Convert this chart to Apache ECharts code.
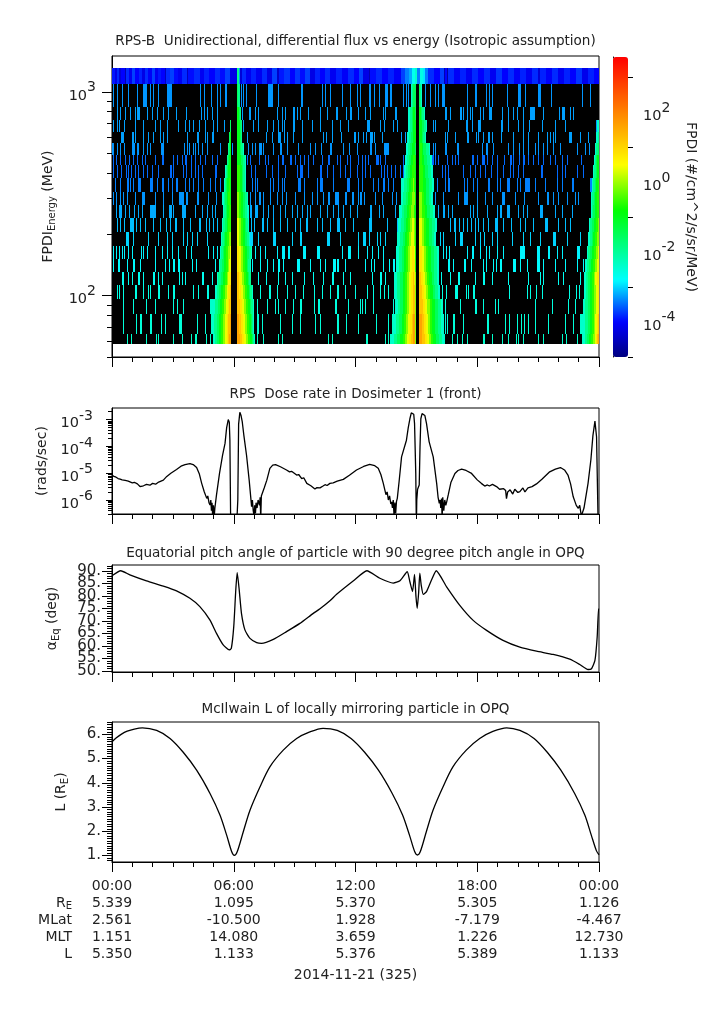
<!DOCTYPE html>
<html><head><meta charset="utf-8">
<style>html,body{margin:0;padding:0;background:#fff}#c{width:725px;height:1019px}</style>
<script src="https://cdn.jsdelivr.net/npm/echarts@6/dist/echarts.min.js"></script>
</head><body><div id="c"></div>
<script>
const FONT='"DejaVu Sans"', INK='#222';
const panelTitles=['RPS-B  Unidirectional, differential flux vs energy (Isotropic assumption)','RPS  Dose rate in Dosimeter 1 (front)','Equatorial pitch angle of particle with 90 degree pitch angle in OPQ','McIlwain L of locally mirroring particle in OPQ'];
const timeTicks=['00:00','06:00','12:00','18:00','00:00'];
const rowRE=['5.339','1.095','5.370','5.305','1.126'];
const rowMLat=['2.561','-10.500','1.928','-7.179','-4.467'];
const rowMLT=['1.151','14.080','3.659','1.226','12.730'];
const rowL=['5.350','1.133','5.376','5.389','1.133'];
const dateLabel='2014-11-21 (325)';

// energy bin edges (MeV), top to bottom
const energyEdges=[1316,1090,840,731,638,564,492,440,380,324,280,241.5,206,176,152,131,113,96.6,81.5,65,57.7];
const hoursPerSample=24/487, sampleCount=487;
// top channel: [first sample, log10 flux]; runs until next entry
const topChannel=[[0,-3.9],[3,-4.2],[5,-3.8],[7,-4.3],[9,-4],[13,-4.6],[14,-3.8],[17,-4.1],[20,-3.7],[23,-4],[27,-3.85],[30,-4.2],[33,-3.8],[36,-4.05],[40,-3.7],[43,-4.1],[46,-3.9],[49,-4],[53,-4.5],[54,-3.8],[58,-3.7],[62,-3.95],[66,-4.1],[70,-3.8],[75,-4.5],[76,-3.95],[82,-3.8],[88,-4.1],[92,-3.85],[97,-4],[103,-3.8],[108,-3.95],[113,-3.7],[118,-4.2],[125,-1.9],[127,-3.3],[128,-4.3],[130,-3.8],[134,-4.1],[139,-3.85],[144,-4.1],[150,-3.8],[155,-4.2],[160,-3.7],[165,-4.4],[167,-3.9],[172,-3.75],[178,-4],[183,-3.75],[188,-3.95],[193,-3.7],[198,-4.2],[203,-3.85],[208,-4],[213,-3.8],[218,-4.1],[224,-3.85],[230,-4.05],[236,-3.8],[242,-4],[247,-3.7],[251,-4.2],[257,-4.6],[258,-3.95],[264,-3.8],[270,-4],[276,-3.85],[282,-4.05],[289,-3.7],[293,-3.4],[297,-3.2],[300,-2.7],[303,-2.4],[305,-3.4],[308,-2.6],[311,-2.9],[313,-3.4],[316,-3.8],[322,-4],[328,-3.7],[332,-4.6],[333,-4],[335,-4.7],[336,-3.8],[342,-4.05],[348,-3.85],[354,-4.1],[360,-3.8],[366,-4],[372,-3.8],[378,-4.1],[384,-3.75],[390,-4],[396,-3.8],[402,-4.05],[408,-3.85],[414,-4.1],[420,-3.8],[426,-4.3],[428,-3.85],[434,-4.05],[440,-3.8],[446,-4.1],[452,-3.85],[458,-4],[464,-3.75],[470,-4.15],[476,-3.85],[482,-4]];
// other channels: flux of a single-count sample, log10
const rowCountFlux=[null,-3.3,-3.25,-3.25,-3.25,-3.3,-3.5,-3.5,-3.4,-3.3,-3.2,-3.1,-3.0,-2.85,-2.8,-2.7,-2.6,-2.55,-2.5,-2.4];
// samples with counts per channel: n or [n,width]
const countSamples=[[],
[1,5,10,16,25,[31,4],38,41,46,[55,2],[57,3],88,92,99,105,108,[113,2],129,131,134,144,[156,5],166,[189,2],210,213,218,230,238,245,248,[257,2],262,267,[273,3],[278,2],291,294,296,299,313,318,323,326,[330,3],355,[363,2],374,377,380,395,[406,3],413,[426,3],439,470,478],
[5,8,13,18,23,[25,3],35,40,45,51,56,64,74,89,92,95,100,105,130,[137,2],143,146,165,170,173,[181,2],185,188,196,208,215,[224,2],234,[238,2],246,253,258,271,273,[283,2],[333,2],338,[348,2],351,355,358,360,368,371,[377,3],390,396,401,405,411,[418,5],431,447,[450,3],458,461],
[1,5,7,12,23,31,43,48,55,66,73,77,81,87,93,101,105,112,131,141,146,155,161,166,170,172,[181,2],190,200,208,220,228,236,[255,3],268,272,281,285,321,323,336,[354,2],360,[366,3],[389,2],396,406,411,417,430,443,453,484],
[[9,3],[20,2],23,31,36,41,48,51,55,75,[85,2],93,95,[100,2],135,154,160,[166,3],172,175,181,190,211,214,220,229,[242,2],246,251,254,[258,3],262,270,289,293,333,335,343,[355,2],364,366,371,[376,2],380,389,401,411,416,426,435,438,441,443,[457,3],468,476],
[[0,2],5,8,12,[20,3],[25,2],31,35,38,[49,3],72,75,77,81,83,86,90,95,108,120,136,140,143,[147,3],151,161,[168,2],175,186,198,203,209,[218,2],231,237,245,[258,2],263,[272,5],321,323,[333,2],[345,2],370,[374,2],381,396,401,407,411,416,423,426,431,435,441,448,465,473,477],
[1,4,8,13,17,21,25,30,33,43,[50,2],61,65,70,[73,2],79,83,88,93,100,105,135,138,147,153,156,166,[170,2],[178,2],183,188,192,196,201,210,[216,2],225,228,235,238,246,250,253,256,[264,3],268,273,291,[320,2],323,326,335,340,343,346,[360,2],365,[370,3],375,380,385,392,[398,2],401,407,[411,2],416,421,426,431,438,443,450,455,469,482],
[1,5,9,14,16,19,23,26,31,35,40,46,[58,2],61,71,74,79,83,86,90,[103,2],139,143,154,160,166,173,185,[188,3],196,[208,2],215,221,228,233,238,245,250,253,258,269,272,275,279,283,288,291,330,333,336,351,358,363,368,373,379,385,391,398,401,406,411,[429,2],445,450,453,465,471],
[3,8,[15,2],18,21,[26,3],[38,3],45,[50,2],56,60,[64,2],73,77,81,86,91,98,103,108,140,143,145,158,161,166,170,172,[186,3],192,205,[208,3],221,[235,3],246,250,261,266,[271,2],276,281,[290,2],325,333,[336,2],352,355,361,365,[376,2],385,388,[395,3],405,408,[413,5],423,433,445,450,[460,2],[478,2]],
[1,4,8,11,15,23,[30,3],43,51,60,[67,5],[74,2],[85,2],96,104,138,143,[147,2],151,158,165,170,174,183,192,200,205,211,[216,2],[223,4],[233,2],[240,2],246,[248,2],252,263,270,280,284,323,331,346,[352,4],365,373,380,[390,3],403,412,426,[435,2],441,446,455,463,466],
[4,[7,3],13,17,22,26,30,[38,6],51,[57,3],61,[70,4],83,90,95,100,103,[138,2],[143,3],151,156,161,168,173,180,185,190,195,198,208,215,221,226,231,238,245,[258,2],267,271,283,326,[331,2],336,340,358,361,365,375,385,[388,2],[395,3],406,411,415,[428,3],443,450,460],
[5,8,12,[18,4],24,28,33,41,48,54,58,[63,2],71,78,[87,2],94,97,101,105,139,142,[150,2],155,161,168,175,183,188,[194,2],205,210,218,[225,3],233,241,[257,3],275,285,338,[342,2],347,351,355,359,363,366,371,376,[383,3],391,399,408,413,421,[433,3],446,453,458],
[[14,3],21,36,46,55,60,71,75,80,85,95,[138,3],146,[161,3],180,[188,2],[215,3],228,246,[251,3],257,265,268,273,328,331,343,[348,3],363,368,372,380,385,400,411,418,428,[441,3],455,468],
[1,4,7,10,12,16,20,29,31,35,43,50,55,60,66,74,79,96,101,105,143,148,153,165,[170,3],[176,2],[191,3],[205,3],230,[236,3],246,255,260,266,271,331,334,337,355,[360,2],368,374,377,385,391,[408,5],[425,3],[436,2],445,450,[465,3]],
[1,[6,2],15,[21,2],28,43,53,57,[61,2],[66,2],80,84,103,140,148,155,161,[166,2],171,[185,3],198,208,213,[221,3],[225,2],233,253,259,262,271,277,[281,2],[336,2],341,[352,2],359,371,374,381,384,[388,2],[401,3],408,415,[425,3],431,443,453,465,471],
[[10,2],16,20,[26,2],31,[41,2],46,50,67,70,73,[90,2],100,146,154,166,173,180,192,201,211,[220,2],231,238,260,[268,2],273,329,338,[346,2],363,[371,2],380,396,416,428,431,446,451,468],
[5,7,11,[23,2],31,36,38,[46,2],56,[61,2],81,86,[95,2],148,[157,2],165,175,183,191,202,210,218,[225,2],233,243,255,261,268,272,276,330,334,[343,3],354,356,[361,2],397,415,418,424,430,457,464,467],
[11,21,34,43,61,65,71,[101,3],145,155,163,166,173,181,[188,2],202,[206,2],[223,2],236,248,250,253,261,281,333,348,[363,2],371,383,386,423,440,456,463],
[11,24,[28,2],[38,2],49,53,[67,3],85,93,[145,2],150,168,180,188,203,208,[225,2],234,246,264,276,333,335,[341,2],351,[375,2],393,397,405,409,412,416,423,436,453,461],
[15,19,34,44,46,61,70,79,[83,2],94,98,145,151,166,170,216,220,[254,2],273,276,340,345,350,355,[371,2],380,390,396,404,406,411,426,431,450,454,465]];

// radiation belt wings: log10 flux level index per sample, one string per channel (index 0..19)
const beltLevels=[-2.4,-1.9,-1.5,-1.0,-0.6,-0.1,0.4,0.8,1.2,1.6];
const pass1LeftEnd=119, pass1RightStart=125, pass2LeftEnd=304, pass2RightStart=307, pass3End=487;
const pass1Left=['','','','2','23','123','1233','012333','0123343','001223443','01123344','011223444','0112334455','01123344556','011223344566','01112233445667','0011223344556778','000001112233445566788','00011122334455667889','001122334455667899'];
const pass1Right=['','211','3321','33321','33321','3332110','333322110','444332110','444332110','55443322110','554433221100','665544332110','6655443322110','776655443322110','77665544332110','88766554433211','8877665544332110','88877665544332110','99887766554433210','999887766554433210'];
const pass2Left=['','01222','00112332','00112333','001122333','0011223332','00112233443','001122334443','000111223344543','001112233445553','00011222334455543','000111223344556654','0001112233445566654','00011122334455667764','00011122334455667774','0001112223344556677875','0001112223344556677885','000112223344556677885','000011122233445566778995','00001112223334455667788995'];
const pass2Right=['','210','332110','33322110','3332110','34432221110','3443322211100','44443322211100','444433322211100','55544332221100','5554443322211100','666554433322211100','66655443332221100','77766554433322211100','77766554433322211100','88776655443332211100','888776655443332211100','888877665554433322211100','9998877665544333222111000','99988877665544333222111000'];
const pass3Left=['','','','00','001','0112','01233','011233','0112334','01123344','01223344','0112233445','00112334455','011223344556','00112233445566','001122334456677','001122334455667','0011122334455667','0000011122334456678','00011223344556789'];

// dose rate: [hour, log10 rads/sec]
const doseHours=[0,.1,.2,.3,.4,.5,.65,.8,.88,1,1.1,1.25,1.38,1.45,1.55,1.7,1.87,2,2.15,2.3,2.53,2.7,2.9,3.18,3.4,3.6,3.84,4,4.17,4.3,4.42,4.55,4.67,4.72,4.78,4.83,4.87,4.9,4.93,4.96,5,5.03,5.07,5.15,5.3,5.45,5.57,5.65,5.73,5.78,5.81,5.85,6.14,6.2,6.24,6.3,6.36,6.42,6.5,6.63,6.76,6.88,6.92,6.96,7,7.03,7.07,7.1,7.15,7.2,7.27,7.3,7.33,7.36,7.4,7.5,7.63,7.78,7.92,8.06,8.3,8.6,8.75,8.85,9.1,9.2,9.35,9.45,9.6,9.8,10,10.1,10.25,10.4,10.5,10.6,10.74,10.9,11.1,11.4,11.7,12.05,12.4,12.7,12.95,13.12,13.25,13.37,13.5,13.56,13.62,13.68,13.74,13.78,13.82,13.86,13.9,13.94,13.98,14.02,14.06,14.15,14.27,14.51,14.6,14.68,14.75,14.81,14.87,14.91,14.97,15,15.02,15.06,15.14,15.18,15.22,15.28,15.34,15.42,15.5,15.63,15.83,16,16.07,16.13,16.17,16.2,16.24,16.27,16.3,16.35,16.4,16.45,16.5,16.57,16.7,16.9,17.05,17.23,17.45,17.72,18,18.2,18.37,18.5,18.6,18.75,18.95,19.1,19.3,19.4,19.44,19.5,19.62,19.75,19.85,20,20.1,20.25,20.35,20.5,20.7,20.92,21.2,21.57,21.85,22.1,22.3,22.47,22.6,22.73,22.8,22.88,22.98,23.05,23.13,23.18,23.26,23.46,23.6,23.7,23.8,23.85,23.88,23.96,24];
const doseLog=[-5.08,-5.12,-5.15,-5.2,-5.22,-5.25,-5.27,-5.3,-5.31,-5.36,-5.34,-5.4,-5.5,-5.44,-5.47,-5.42,-5.45,-5.38,-5.41,-5.33,-5.26,-5.12,-5.0,-4.86,-4.74,-4.68,-4.64,-4.68,-4.79,-5.02,-5.38,-5.7,-5.94,-5.85,-6.1,-6.19,-6.0,-6.4,-6.1,-6.6,-6.2,-6.7,-6.3,-5.81,-5.0,-4.33,-3.89,-3.3,-3.0,-3.1,-3.77,-7,-7,-6,-3.17,-2.73,-2.85,-3.09,-3.6,-4.33,-5.26,-6.25,-6.0,-6.4,-6.6,-6.2,-6.5,-6.1,-6.3,-6.0,-6.2,-5.9,-6.7,-5.85,-5.8,-5.55,-5.26,-4.82,-4.7,-4.68,-4.76,-4.88,-4.95,-4.93,-5.07,-5.05,-5.2,-5.17,-5.38,-5.47,-5.59,-5.54,-5.55,-5.48,-5.43,-5.46,-5.38,-5.36,-5.3,-5.23,-5.08,-4.88,-4.75,-4.67,-4.72,-4.82,-5.05,-5.38,-5.8,-5.7,-6.0,-5.85,-6.15,-6.07,-6.3,-6.0,-6.6,-6.1,-6.5,-6.05,-5.94,-5.3,-4.39,-3.77,-3.3,-2.97,-2.75,-2.7,-2.8,-3.15,-5.0,-7,-6,-5.6,-5.44,-4,-2.97,-2.78,-2.75,-2.85,-3.15,-3.83,-4.39,-5.38,-5.9,-6.13,-6.0,-6.3,-5.95,-6.7,-5.9,-6.4,-6.0,-6.2,-6.05,-5.81,-5.35,-5.01,-4.9,-4.85,-4.9,-5.01,-5.25,-5.38,-5.48,-5.44,-5.48,-5.42,-5.5,-5.6,-5.58,-5.65,-5.95,-5.7,-5.62,-5.78,-5.6,-5.72,-5.69,-5.55,-5.7,-5.55,-5.5,-5.4,-5.22,-4.95,-4.85,-4.79,-4.88,-5.07,-5.4,-5.88,-5.95,-6.2,-6.31,-6.2,-6.6,-6.6,-6.3,-5.38,-4.5,-3.6,-3.06,-3.05,-3.65,-7,-7];

const pitchHours=[0,.43,.88,1.7,2.53,3.18,3.84,4.33,4.83,5.15,5.48,5.78,5.88,6,6.1,6.17,6.27,6.38,6.55,6.8,7.13,7.37,7.95,8.6,9.26,9.92,10.25,10.74,11.07,11.9,12.56,13.2,13.86,14.19,14.55,14.68,14.81,14.91,14.98,15.04,15.11,15.17,15.24,15.34,15.5,15.75,15.98,16.49,17.14,17.8,18.46,19.27,20.1,20.92,21.74,22.56,23.05,23.46,23.63,23.8,23.91,23.98,24];
const pitchDeg=[88,90,88.4,86,83.9,82,79,75.7,70.3,65,60.4,58.4,59,67.7,82.3,89.2,82.3,73,66.4,63,61.3,61,62.6,65.7,69,73,74.8,78,80.6,86,90,87,85.1,86,89.6,85.6,81.7,88.5,79.7,75,81,89,84.2,80.6,81.7,86.4,90,83.6,76.2,70.2,66.2,62.2,59.5,57.9,56.6,54.7,52.6,50.6,50.9,54.2,63.5,75,75];

const lHours=[0,.2,.45,.75,1.1,1.5,2.2,2.86,3.51,4.17,4.83,5.32,5.65,5.9,6.03,6.17,6.47,6.8,7.29,7.78,8.44,9.1,9.75,10.4,11.1,11.78,12.45,13.13,13.81,14.32,14.66,14.92,15.05,15.19,15.49,15.82,16.31,16.8,17.46,18.12,18.77,19.45,20.1,20.8,21.45,22.12,22.8,23.3,23.62,23.87,24];
const lValues=[5.69,5.85,6.0,6.13,6.22,6.27,6.16,5.83,5.26,4.52,3.56,2.67,1.84,1.15,1.0,1.15,1.98,2.87,3.83,4.66,5.35,5.83,6.1,6.25,6.16,5.83,5.26,4.52,3.56,2.67,1.84,1.15,1.02,1.15,1.98,2.87,3.83,4.66,5.35,5.83,6.12,6.27,6.16,5.83,5.26,4.52,3.56,2.67,1.84,1.2,1.03];

// colour table of the bar (anchor log10 flux, rgb)
const colourAnchors=[[-5,[0,0,128]],[-4,[0,0,255]],[-2.8,[0,255,255]],[-0.8,[0,255,0]],[0.5,[255,255,0]],[3.59,[255,0,0]]];
const colourMin=-5, colourMax=3.59;

const energyMajor=[100,1000], energyMinor=[50,60,70,80,90,200,300,400,500,600,700,800,900];
const doseMajor=[1e-6,1e-5,1e-4,1e-3];
const doseMinor=[3e-7,4e-7,5e-7,6e-7,7e-7,8e-7,9e-7,2e-6,3e-6,4e-6,5e-6,6e-6,7e-6,8e-6,9e-6,2e-5,3e-5,4e-5,5e-5,6e-5,7e-5,8e-5,9e-5,2e-4,3e-4,4e-4,5e-4,6e-4,7e-4,8e-4,9e-4,2e-3];
const pitchMajor=[50,55,60,65,70,75,80,85,90];
const pitchLabelsA=[50,60,70,80,90], pitchLabelsB=[55,65,75,85];
const pitchMinor=[];for(let d=50;d<=92;d++)if(d%5)pitchMinor.push(d);
const lMajor=[1,2,3,4,5,6];
const lMinor=[];for(let d=8;d<=65;d++)if(d%10)lMinor.push(d/10);
const barMajor=[1e-4,1e-2,1,100], barMinor=[1e-5,1e-3,1e-1,10,1000];

// ---- build cells
function cell(row,c0,c1,v){return [c0*hoursPerSample,c1*hoursPerSample,energyEdges[row+1],energyEdges[row],v];}
const blackCells=[],fluxCells=[];
for(let r=0;r<20;r++)blackCells.push(cell(r,0,sampleCount,0));
topChannel.forEach((e,i)=>{const end=i+1<topChannel.length?topChannel[i+1][0]:sampleCount;fluxCells.push(cell(0,e[0],end,e[1]));});
countSamples.forEach((list,r)=>list.forEach(s=>{const c=Array.isArray(s)?s[0]:s,w=Array.isArray(s)?s[1]:1;fluxCells.push(cell(r,c,c+w,rowCountFlux[r]));}));
function addWing(rows,anchor,toLeft){rows.forEach((str,r)=>{const n=str.length;for(let i=0;i<n;i++){const c=toLeft?anchor-n+i:anchor+i;fluxCells.push(cell(r,c,c+1,beltLevels[+str[i]]));}});}
addWing(pass1Left,pass1LeftEnd,true);addWing(pass1Right,pass1RightStart,false);
addWing(pass2Left,pass2LeftEnd,true);addWing(pass2Right,pass2RightStart,false);addWing(pass3Left,pass3End,true);

function colourAt(v){let i=0;while(i<colourAnchors.length-2&&v>colourAnchors[i+1][0])i++;const a=colourAnchors[i],b=colourAnchors[i+1],f=(v-a[0])/(b[0]-a[0]);
 return 'rgb('+a[1].map((x,k)=>Math.round(x+(b[1][k]-x)*f)).join(',')+')';}
const colourList=[];for(let k=0;k<=120;k++)colourList.push(colourAt(colourMin+(colourMax-colourMin)*k/120));

function renderCell(p,api){const a=api.coord([api.value(0),api.value(3)]),b=api.coord([api.value(1),api.value(2)]);
 const y0=Math.round(a[1]),y1=Math.round(b[1]);
 return {type:'rect',shape:{x:a[0],y:y0,width:b[0]-a[0],height:y1-y0},style:{fill:p.seriesIndex===0?'#000':api.visual('color')}};}
function sup(v){return '10{s|'+Math.round(Math.log10(v))+'}';}
const richSup={s:{fontSize:14,fontFamily:FONT,color:INK,padding:[0,0,17,0]}};
const richName={s:{fontSize:10,fontFamily:FONT,color:INK,padding:[8,0,0,0]}};
const lbl=(o)=>Object.assign({color:INK,fontFamily:FONT,fontSize:14.5,showMinLabel:true,showMaxLabel:true},o);

const grids=[{left:112,top:56,width:487,height:301},{left:112,top:408,width:487,height:106},{left:112,top:565,width:487,height:107},{left:112,top:722,width:487,height:140},{left:613,top:57,width:15,height:300}];
const xAxes=[0,1,2,3].map(i=>({type:'value',gridIndex:i,min:0,max:24,interval:6,splitLine:{show:false},
 axisLine:{lineStyle:{color:'#000'}},axisTick:{length:10,lineStyle:{color:'#000'}},minorTick:{show:true,splitNumber:6,length:5,lineStyle:{color:'#000'}},
 axisLabel:i<3?{show:false}:lbl({fontSize:14,margin:15.5,lineHeight:17,align:'center',
   formatter:v=>{const k=Math.round(v/6);return [timeTicks[k],rowRE[k],rowMLat[k],rowMLT[k],rowL[k]].join('\n');}}),
 name:i===3?dateLabel:'',nameLocation:'middle',nameGap:106,nameTextStyle:{color:INK,fontFamily:FONT,fontSize:14}}));
xAxes.push({type:'value',gridIndex:4,min:0,max:1,show:false});
const yBase=(i,o)=>Object.assign({gridIndex:i,splitLine:{show:false},axisLine:{show:true,lineStyle:{color:'#000'}},minorTick:{show:false},nameLocation:'middle',nameTextStyle:{color:INK,fontFamily:FONT,fontSize:14,rich:richName}},o);
// overlay axis in the same grid that carries only the short ticks
const minorAxis=(i,type,min,max,vals,len,pos)=>({type,gridIndex:i,min,max,position:pos,splitLine:{show:false},axisLine:{show:false},axisLabel:{show:false},axisTick:{show:true,length:len,customValues:vals,lineStyle:{color:'#000'}}});
const yAxes=[
 yBase(0,{type:'log',min:50,max:1500,axisTick:{length:10,customValues:energyMajor,lineStyle:{color:'#000'}},axisLabel:lbl({customValues:energyMajor,margin:16,padding:[8,0,0,0],formatter:sup,rich:richSup}),name:'FPDI{s|Energy} (MeV)',nameGap:53}),
 yBase(1,{type:'log',min:3e-7,max:2.7e-3,axisTick:{length:6,customValues:doseMajor,lineStyle:{color:'#000'}},axisLabel:lbl({customValues:doseMajor,margin:19,padding:[8,0,0,0],formatter:sup,rich:{s:{fontSize:14,fontFamily:FONT,color:INK,padding:[0,0,15,0]}}}),name:'(rads/sec)',nameGap:58}),
 yBase(2,{type:'value',min:49.6,max:92.3,axisTick:{length:10,customValues:pitchMajor,lineStyle:{color:'#000'}},axisLabel:lbl({customValues:pitchLabelsA,margin:11,fontSize:15,formatter:v=>v+'.'}),name:'α{s|Eq} (deg)',nameGap:51}),
 yBase(3,{type:'value',min:.73,max:6.51,axisTick:{length:10,customValues:lMajor,lineStyle:{color:'#000'}},axisLabel:lbl({customValues:lMajor,margin:11,fontSize:15,formatter:v=>v+'.'}),name:'L (R{s|E})',nameGap:42}),
 yBase(4,{type:'log',min:1e-5,max:3900,position:'right',axisTick:{length:10,customValues:barMajor,lineStyle:{color:'#000'}},axisLabel:lbl({customValues:barMajor,margin:15,padding:[8,0,0,0],formatter:sup,rich:richSup}),name:'FPDI (#/cm^2/s/sr/MeV)',nameRotate:-90,nameGap:56}),
 {type:'value',gridIndex:2,min:49.6,max:92.3,position:'left',splitLine:{show:false},axisLine:{show:false},axisTick:{show:false},axisLabel:lbl({customValues:pitchLabelsB,margin:11,fontSize:15,formatter:v=>v+'.'})},
 minorAxis(0,'log',50,1500,energyMinor,5,'left'),
 minorAxis(1,'log',3e-7,2.7e-3,doseMinor,4,'left'),
 minorAxis(2,'value',49.6,92.3,pitchMinor,5,'left'),
 minorAxis(3,'value',.73,6.51,lMinor,5,'left'),
 minorAxis(4,'log',1e-5,3900,barMinor,5,'right')
];
const line=(i,xs,ys,extra)=>Object.assign({type:'line',xAxisIndex:i,yAxisIndex:i,showSymbol:false,symbol:'none',lineStyle:{color:'#000',width:1.3},data:xs.map((x,k)=>[x,ys[k]]),clip:true,animation:false},extra||{});

const chart=echarts.init(document.getElementById('c'),null,{renderer:'canvas'});
chart.setOption({animation:false,backgroundColor:'#fff',
 title:panelTitles.map((t,i)=>({text:t,left:350.5,textAlign:'center',top:[29,382,541,697][i],textStyle:{color:INK,fontFamily:FONT,fontSize:13.55,fontWeight:'normal'}})),
 grid:grids.map(g=>Object.assign({show:g.left===112,borderColor:'#000',borderWidth:1,backgroundColor:'transparent'},g)),
 xAxis:xAxes,yAxis:yAxes,
 visualMap:[{type:'continuous',seriesIndex:[1],dimension:4,min:colourMin,max:colourMax,left:613,top:57,itemWidth:15,itemHeight:300,padding:0,text:null,showLabel:false,calculable:false,realtime:false,inRange:{color:colourList},textStyle:{fontSize:0},formatter:()=>''}],
 graphic:[['R{s|E}',896],['MLat',913],['MLT',930],['L',947]].map(r=>({type:'text',right:725-72,top:r[1],style:{text:r[0],font:'14px "DejaVu Sans"',fill:INK,textAlign:'right',rich:{s:{font:'10px "DejaVu Sans"',fill:INK,padding:[7,0,0,0]}}}})),
 series:[
  {type:'custom',xAxisIndex:0,yAxisIndex:0,data:blackCells,renderItem:renderCell,silent:true,encode:{x:[0,1],y:[2,3]},clip:true},
  {type:'custom',xAxisIndex:0,yAxisIndex:0,data:fluxCells,renderItem:renderCell,silent:true,encode:{x:[0,1],y:[2,3]},clip:true},
  line(1,doseHours,doseLog.map(v=>Math.pow(10,v))),
  line(2,pitchHours,pitchDeg,{smooth:.18}),
  line(3,lHours,lValues,{smooth:.3})
 ]});
</script></body></html>
